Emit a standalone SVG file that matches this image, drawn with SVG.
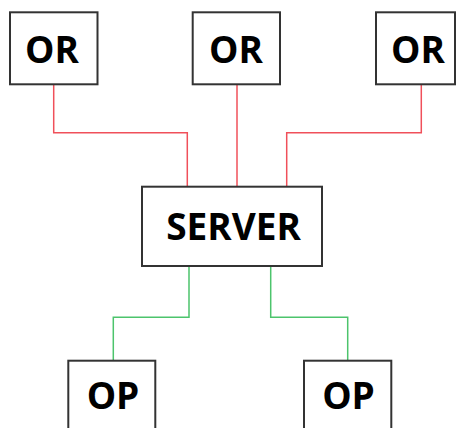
<svg xmlns="http://www.w3.org/2000/svg" width="457" height="428" viewBox="0 0 457 428">
<style>
.box{fill:#fff;stroke:#333;stroke-width:2}
.lbl{font-family:"Open Sans","Liberation Sans",sans-serif;font-weight:bold;font-size:37px;fill:#000;text-anchor:middle}
.red{fill:none;stroke:#f0505a;stroke-width:1.5}
.green{fill:none;stroke:#4cc46c;stroke-width:1.5}
</style>
<rect width="457" height="428" fill="#fff"/>
<g id="connectors">
<polyline class="red" points="53.7,84 53.7,132.7 187.3,132.7 187.3,187"/>
<polyline class="red" points="237,84 237,187"/>
<polyline class="red" points="421.3,84 421.3,132.7 286.7,132.7 286.7,187"/>
<polyline class="green" points="189,266 189,317.3 113.3,317.3 113.3,361"/>
<polyline class="green" points="270.7,266 270.7,317.3 347.7,317.3 347.7,361"/>
</g>
<g id="or1"><rect class="box" x="10" y="12.3" width="87.5" height="72"/><text class="lbl" x="52" y="63">OR</text></g>
<g id="or2"><rect class="box" x="192.7" y="12.3" width="87.3" height="72"/><text class="lbl" x="236" y="63">OR</text></g>
<g id="or3"><rect class="box" x="376" y="12.3" width="79" height="72"/><text class="lbl" x="418" y="63">OR</text></g>
<g id="server"><rect class="box" x="142" y="186.7" width="180" height="79.3"/><text class="lbl" x="233.5" y="240">SERVER</text></g>
<g id="op1"><rect class="box" x="68.3" y="360.7" width="87" height="80"/><text class="lbl" x="113" y="409.3">OP</text></g>
<g id="op2"><rect class="box" x="304" y="360.7" width="87.3" height="80"/><text class="lbl" x="348.5" y="409.3">OP</text></g>
</svg>
